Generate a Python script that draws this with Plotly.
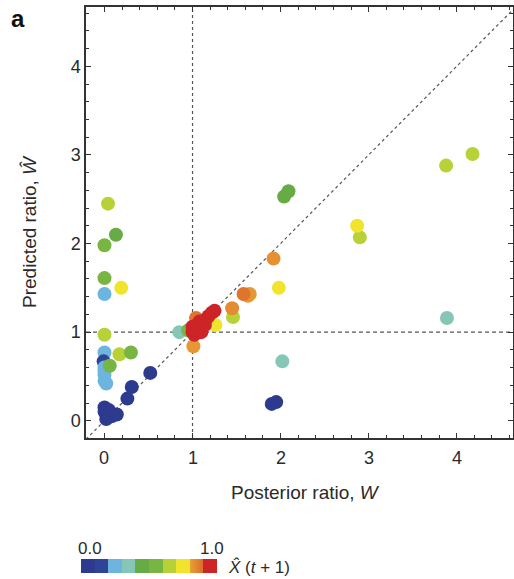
import plotly.graph_objects as go

# Posterior ratio W (x), predicted ratio W-hat (y) and predicted X-hat(t+1) (colour)
posterior_ratio = [
    0.04, 0.13, 0.00, 0.00, 0.19, 0.00, 0.00, 0.00, 0.17, 0.30,
    -0.01, 0.00, 0.00, 0.02, 0.00, 0.00, 0.06,
    0.00, 0.00, 0.03, 0.08, 0.14, 0.05, 0.02, 0.26, 0.31, 0.52,
    1.90, 1.95, 2.02, 3.89,
    0.85, 0.95, 2.04, 2.09, 2.90, 3.88, 4.18, 1.46, 1.98, 2.87,
    1.26, 1.01, 1.45, 1.65, 1.63, 1.92, 1.04, 1.58,
    1.00, 1.02, 1.06, 1.10, 1.00, 1.05, 1.09, 1.12, 1.15, 1.18,
    1.22, 1.25, 1.08, 1.02, 1.14,
]
predicted_ratio = [
    2.45, 2.10, 1.98, 1.61, 1.50, 1.43, 0.97, 0.77, 0.75, 0.77,
    0.67, 0.60, 0.52, 0.42, 0.45, 0.56, 0.62,
    0.15, 0.10, 0.05, 0.05, 0.07, 0.12, 0.02, 0.25, 0.38, 0.54,
    0.19, 0.21, 0.67, 1.16,
    1.00, 1.02, 2.53, 2.59, 2.07, 2.88, 3.01, 1.17, 1.50, 2.20,
    1.08, 0.84, 1.27, 1.43, 1.41, 1.83, 1.16, 1.43,
    1.00, 0.97, 1.02, 1.00, 1.06, 1.08, 1.06, 1.10, 1.14, 1.18,
    1.22, 1.24, 1.12, 1.03, 1.08,
]
x_hat_next = [
    0.65, 0.45, 0.55, 0.55, 0.72, 0.25, 0.62, 0.25, 0.62, 0.50,
    0.15, 0.25, 0.28, 0.28, 0.28, 0.28, 0.55,
    0.05, 0.05, 0.05, 0.05, 0.05, 0.05, 0.05, 0.05, 0.05, 0.05,
    0.05, 0.05, 0.35, 0.30,
    0.35, 0.50, 0.47, 0.47, 0.62, 0.62, 0.60, 0.67, 0.72, 0.72,
    0.75, 0.82, 0.84, 0.82, 0.82, 0.83, 0.88, 0.88,
    0.95, 0.95, 0.95, 0.95, 0.95, 0.95, 0.95, 0.95, 0.95, 0.95,
    0.95, 0.95, 0.95, 0.95, 0.95,
]

x_ticks = [0, 1, 2, 3, 4]
y_ticks = [0, 1, 2, 3, 4]
x_range = [-0.21, 4.64]
y_range = [-0.195, 4.67]
reference_ratio = 1.0
color_min, color_max = 0.0, 1.0

# ten-step colour key for X-hat(t+1)
bin_colors = [
    "#2d3b8f", "#2f4499", "#6db5de", "#86c6b6", "#66ab45",
    "#79b543", "#b6d236", "#f0e52c", ("#e9a236", "#dc6a2b"), "#cd2428",
]
colorscale = []
for i, c in enumerate(bin_colors):
    lo, hi = i / 10, (i + 1) / 10
    c0, c1 = (c if isinstance(c, tuple) else (c, c))
    colorscale.append([lo, c0])
    colorscale.append([hi, c1])

FONT = "Liberation Sans, Arial, Helvetica, sans-serif"
INK = "#2a2a2a"

# figure geometry (pixels)
W, H = 514, 579
ML, MR, MT, MB = 86, 1, 7, 141
PW, PH = W - ML - MR, H - MT - MB


def px_x(px):
    return (px - ML) / PW


def px_y(py):
    return (H - MB - py) / PH


fig = go.Figure()

fig.add_trace(go.Scatter(
    x=posterior_ratio,
    y=predicted_ratio,
    mode="markers",
    marker=dict(
        size=14,
        color=x_hat_next,
        colorscale=colorscale,
        cmin=color_min, cmax=color_max,
        line=dict(width=0),
        colorbar=dict(
            orientation="h",
            x=px_x(81), xanchor="left",
            y=px_y(559), yanchor="top",
            lenmode="pixels", len=136,
            thicknessmode="pixels", thickness=14,
            xpad=0, ypad=0,
            outlinewidth=0,
            ticks="",
            showticklabels=False,
        ),
    ),
    showlegend=False,
    hoverinfo="skip",
))

# guide lines: W = 1, W-hat = 1 and the identity line
line_style = dict(color="#555555", width=1.2)
fig.add_shape(type="line", xref="x", yref="paper", x0=reference_ratio, x1=reference_ratio,
              y0=0, y1=1, line=dict(**line_style, dash="dot"), layer="below")
fig.add_shape(type="line", xref="paper", yref="y", x0=0, x1=1,
              y0=reference_ratio, y1=reference_ratio,
              line=dict(**line_style, dash="4px,3px"), layer="below")
lo_d = min(x_range[0], y_range[0])
hi_d = max(x_range[1], y_range[1])
fig.add_shape(type="line", xref="x", yref="y", x0=lo_d, y0=lo_d, x1=hi_d, y1=hi_d,
              line=dict(**line_style, dash="dot"), layer="below")

tick_font = dict(family=FONT, size=18, color=INK)
axis_common = dict(
    showline=True, linecolor="#333333", linewidth=1.5, mirror="ticks",
    ticks="inside", ticklen=5, tickwidth=1.3, tickcolor="#333333",
    showgrid=False, zeroline=False, automargin=False,
    tickfont=tick_font,
    minor=dict(dtick=0.2, ticks="inside", ticklen=3, tickwidth=1, tickcolor="#333333"),
)

fig.update_xaxes(range=x_range, tickvals=x_ticks, showticklabels=False, **axis_common)
fig.update_yaxes(range=y_range, tickvals=y_ticks, ticktext=[str(t) for t in y_ticks],
                 **axis_common)

# x tick numbers, set just below the frame at each tick value
for t in x_ticks:
    fig.add_annotation(text=str(t), xref="x", yref="paper", x=t, y=px_y(458),
                       xanchor="center", yanchor="middle", showarrow=False, font=tick_font)

text_font = dict(family=FONT, size=19, color=INK)
fig.add_annotation(text="Posterior ratio, <i>W</i>", xref="paper", yref="paper",
                   x=px_x(305), y=px_y(492), xanchor="center", yanchor="middle",
                   showarrow=False, font=text_font)
fig.add_annotation(text="Predicted ratio, <i>\u0174</i>", xref="paper", yref="paper",
                   x=px_x(30), y=px_y(232), xanchor="center", yanchor="middle",
                   textangle=-90, showarrow=False, font=text_font)
fig.add_annotation(text="<b>a</b>", xref="paper", yref="paper",
                   x=px_x(9), y=px_y(3), xanchor="left", yanchor="top",
                   showarrow=False, font=dict(family=FONT, size=24, color="#111111"))
fig.add_annotation(text="0.0", xref="paper", yref="paper",
                   x=px_x(90), y=px_y(548), xanchor="center", yanchor="middle",
                   showarrow=False, font=dict(family=FONT, size=17, color=INK))
fig.add_annotation(text="1.0", xref="paper", yref="paper",
                   x=px_x(212), y=px_y(548), xanchor="center", yanchor="middle",
                   showarrow=False, font=dict(family=FONT, size=17, color=INK))
fig.add_annotation(text="<i>X\u0302</i> (<i>t</i> + 1)", xref="paper", yref="paper",
                   x=px_x(226), y=px_y(567), xanchor="left", yanchor="middle",
                   showarrow=False, font=dict(family=FONT, size=17, color=INK))

fig.update_layout(
    template="none",
    width=W, height=H,
    margin=dict(l=ML, r=MR, t=MT, b=MB, autoexpand=False),
    paper_bgcolor="white", plot_bgcolor="white",
    font=dict(family=FONT, color=INK),
)

fig.write_html("out.html")
